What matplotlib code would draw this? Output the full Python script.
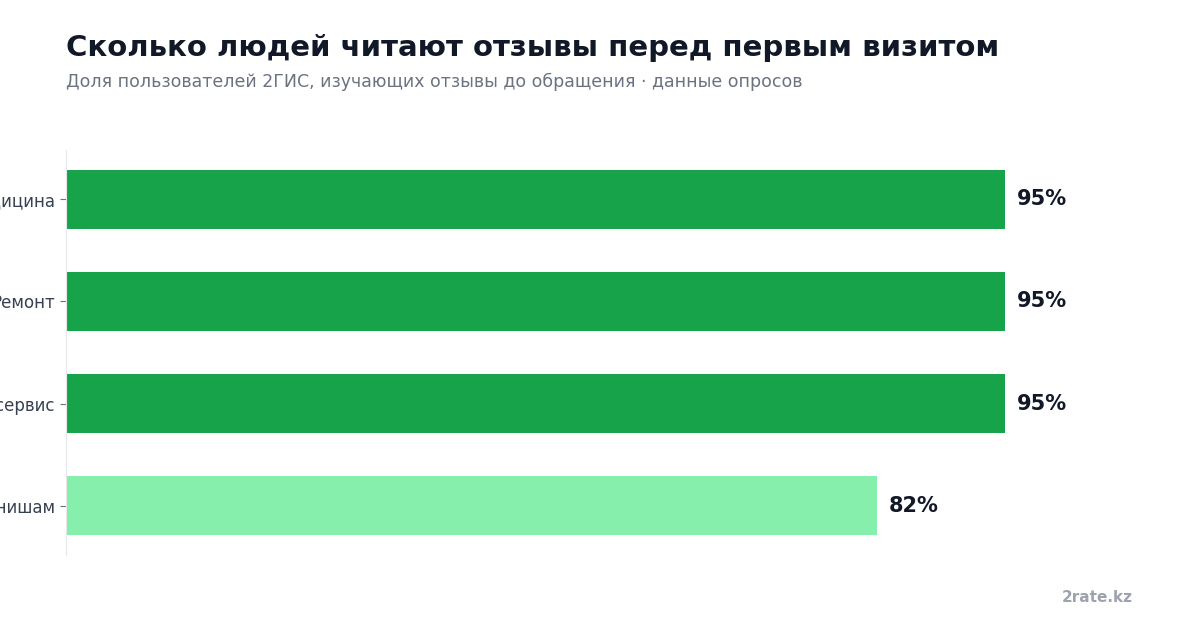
import numpy as np
import matplotlib.pyplot as plt

categories = ["Медицина", "Ремонт", "Автосервис", "Среднее по нишам"]
values = [95, 95, 95, 82]
colors = ["#16a34a", "#16a34a", "#16a34a", "#86efac"]

fig = plt.figure(figsize=(12, 6.3), dpi=100)
ax = fig.add_axes([66/1200, 1 - 555/630, (1134 - 66)/1200, 405/630])

y = np.arange(len(categories))
ax.barh(y, values, height=0.58, color=colors, zorder=2)
ax.set_ylim(len(categories) - 0.515, -0.485)
ax.set_xlim(0, 108)
ax.set_yticks(y)
ax.set_yticklabels(categories, fontsize=12, color="#374151")
ax.tick_params(axis="y", length=4, color="#6b7280", pad=4)
ax.set_xticks([])
for s in ["top", "right", "bottom"]:
    ax.spines[s].set_visible(False)
ax.spines["left"].set_color("#e5e7eb")

for yi, v in zip(y, values):
    ax.text(v + 1.2, yi, f"{v}%", va="center", ha="left", fontsize=15,
            fontweight="bold", color="#111827")

fig.text(66/1200, 1 - 48/630, "Сколько людей читают отзывы перед первым визитом",
         fontsize=21, fontweight="bold", color="#111827", va="center")
fig.text(66/1200, 1 - 82/630, "Доля пользователей 2ГИС, изучающих отзывы до обращения · данные опросов",
         fontsize=12.5, color="#6b7280", va="center")
fig.text(1133/1200, 1 - 597/630, "2rate.kz", fontsize=11, fontweight="bold",
         color="#9ca3af", ha="right", va="center")

fig.savefig("out.png", dpi=100)
